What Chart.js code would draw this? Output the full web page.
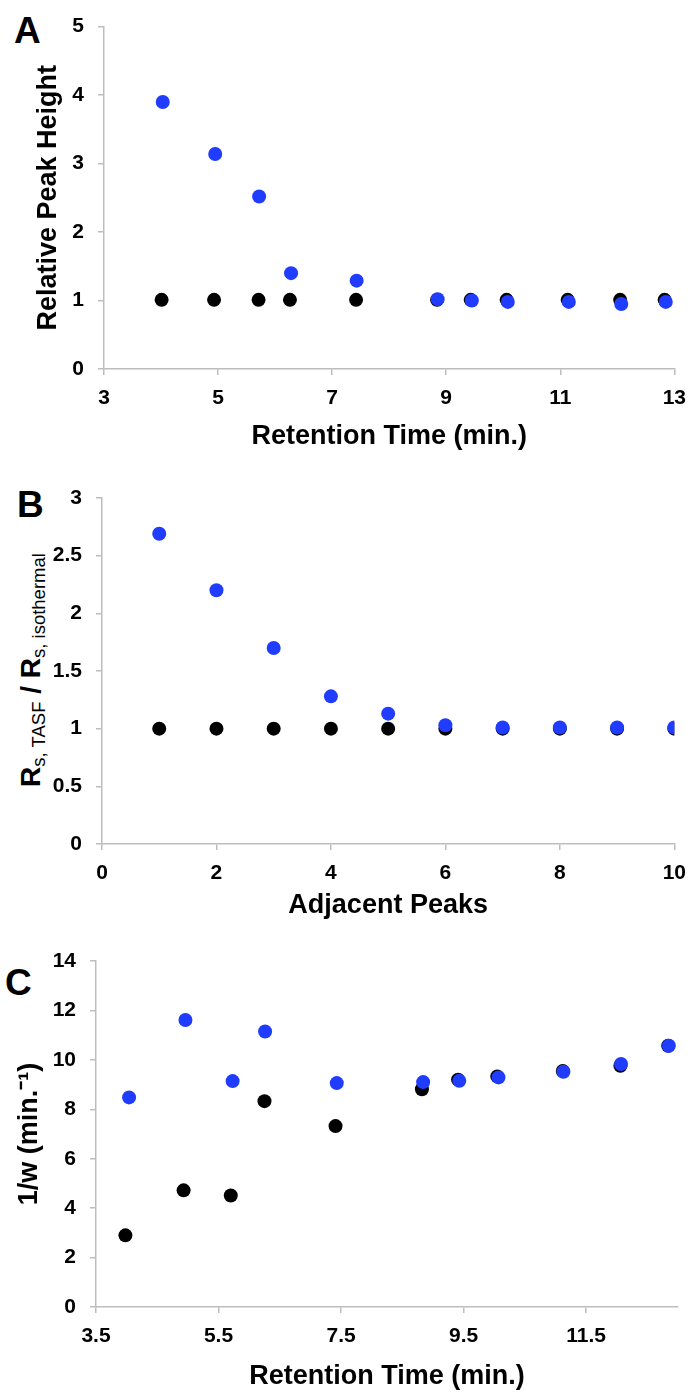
<!DOCTYPE html>
<html>
<head>
<meta charset="utf-8">
<script src="https://cdn.jsdelivr.net/npm/chart.js@4.4.1/dist/chart.umd.min.js"></script>
<style>
  body { margin: 0; background: #fff; width: 697px; height: 1393px; position: relative; overflow: hidden;
         font-family: 'Liberation Sans', Arial, sans-serif; }
  canvas { position: absolute; left: 0; }
  .panel { position: absolute; font-weight: bold; font-size: 37px; line-height: 1; color: #000; }
  #ytitleB { position: absolute; left: 31px; top: 670px; transform: translate(-50%, -50%) rotate(-90deg);
             white-space: nowrap; font-weight: bold; font-size: 28px; line-height: 1; color: #000; }
  #ytitleB sub { font-size: 18.5px; font-weight: normal; vertical-align: -5px; line-height: 0; }
</style>
</head>
<body>
<div class="panel" style="left:14px;top:12px">A</div>
<div class="panel" style="left:17px;top:486px">B</div>
<div class="panel" style="left:5px;top:964px">C</div>
<div id="ytitleB">R<sub>s, TASF</sub> / R<sub>s, isothermal</sub></div>

<canvas id="chartA" width="697" height="460" style="top:0"></canvas>
<canvas id="chartB" width="697" height="465" style="top:460px"></canvas>
<canvas id="chartC" width="697" height="473" style="top:920px"></canvas>

<script>
// panel A: relative peak height vs retention time
const timesIsoA  = [4.01, 4.93, 5.71, 6.26, 7.42, 8.84, 9.43, 10.06, 11.13, 12.05, 12.83];
const timesTasfA = [4.03, 4.95, 5.72, 6.28, 7.43, 8.85, 9.45, 10.08, 11.15, 12.07, 12.85];
const heightIso  = [1.01, 1.01, 1.01, 1.01, 1.01, 1.01, 1.01, 1.01, 1.01, 1.01, 1.01];
const heightTasf = [3.90, 3.14, 2.52, 1.40, 1.29, 1.02, 1.00, 0.98, 0.98, 0.95, 0.98];

// panel B: resolution ratio vs adjacent peak pair
const peaksB  = [1, 2, 3, 4, 5, 6, 7, 8, 9, 10];
const resIso  = [1.00, 1.00, 1.00, 1.00, 1.00, 1.00, 1.00, 1.00, 1.00, 1.00];
const resTasf = [2.69, 2.20, 1.70, 1.28, 1.13, 1.03, 1.01, 1.01, 1.01, 1.01];

// panel C: 1/w vs retention time
const timesIsoC  = [3.98, 4.93, 5.70, 6.25, 7.41, 8.82, 9.41, 10.05, 11.12, 12.06, 12.84];
const timesTasfC = [4.04, 4.96, 5.73, 6.26, 7.43, 8.84, 9.43, 10.07, 11.13, 12.07, 12.85];
const widthIso   = [2.90, 4.72, 4.51, 8.33, 7.32, 8.81, 9.20, 9.33, 9.55, 9.76, 10.57];
const widthTasf  = [8.48, 11.61, 9.14, 11.15, 9.06, 9.10, 9.15, 9.29, 9.52, 9.83, 10.57];
const ticksC     = [3.5, 5.5, 7.5, 9.5, 11.5];

const BLUE = '#1f3cff';
const AXIS = '#bdbdbd';
const FONT = "'Liberation Sans', Arial, sans-serif";

function pts(xs, ys) {
  return xs.map((x, i) => ({x: x, y: ys[i]}));
}

function axis(opts) {
  return {
    type: 'linear',
    min: opts.min, max: opts.max,
    border: {color: AXIS, width: 1.5},
    grid: {drawOnChartArea: false, drawTicks: true, tickLength: 6, color: AXIS, lineWidth: 1.5},
    ticks: {stepSize: opts.step, color: '#000', padding: opts.pad,
            font: {family: FONT, size: 21, weight: 'bold'},
            callback: v => String(+v.toFixed(2))},
    title: {display: !!opts.title, text: opts.title, color: '#000',
            font: {family: FONT, size: 27, weight: 'bold'}, padding: opts.tpad},
    afterFit: opts.fit,
    afterBuildTicks: opts.filter
  };
}

// blue (TASF) first so it is drawn on top of the black points
function makeChart(id, iso, tasf, xOpts, yOpts, pad) {
  return new Chart(document.getElementById(id), {
    type: 'scatter',
    data: {
      datasets: [
        {data: tasf, backgroundColor: BLUE, borderColor: BLUE, pointRadius: 7, pointBorderWidth: 0},
        {data: iso, backgroundColor: '#000', borderColor: '#000', pointRadius: 7, pointBorderWidth: 0}
      ]
    },
    options: {
      responsive: false,
      animation: false,
      devicePixelRatio: 1,
      layout: {padding: pad},
      plugins: {legend: {display: false}, tooltip: {enabled: false}},
      scales: {x: axis(xOpts), y: axis(yOpts)}
    }
  });
}

makeChart('chartA', pts(timesIsoA, heightIso), pts(timesTasfA, heightTasf),
  {min: 3, max: 13, step: 2, pad: 11, title: 'Retention Time (min.)', tpad: {top: 0, bottom: 7},
   fit: s => { s.height = 91; }},
  {min: 0, max: 5, step: 1, pad: 14, title: 'Relative Peak Height', tpad: {top: 32, bottom: 0},
   fit: s => { s.width = 104; }},
  {top: 21, right: 17, left: 0, bottom: 0});

makeChart('chartB', pts(peaksB, resIso), pts(peaksB, resTasf),
  {min: 0, max: 10, step: 2, pad: 11, title: 'Adjacent Peaks', tpad: {top: 0, bottom: 3},
   fit: s => { s.height = 81; }},
  {min: 0, max: 3, step: 0.5, pad: 14, title: '',
   fit: s => { s.width = 102; }},
  {top: 38, right: 19, left: 0, bottom: 0});

makeChart('chartC', pts(timesIsoC, widthIso), pts(timesTasfC, widthTasf),
  {min: 3.5, max: 13, step: 2, pad: 11, title: 'Retention Time (min.)', tpad: {top: 0, bottom: 0},
   fit: s => { s.height = 86; },
   filter: s => { s.ticks = ticksC.map(v => ({value: v})); }},
  {min: 0, max: 14, step: 2, pad: 14, title: '1/w (min.\u207B\u00B9)', tpad: {top: 13, bottom: 0},
   fit: s => { s.width = 96; }},
  {top: 41, right: 19, left: 0, bottom: 0});
</script>
</body>
</html>
